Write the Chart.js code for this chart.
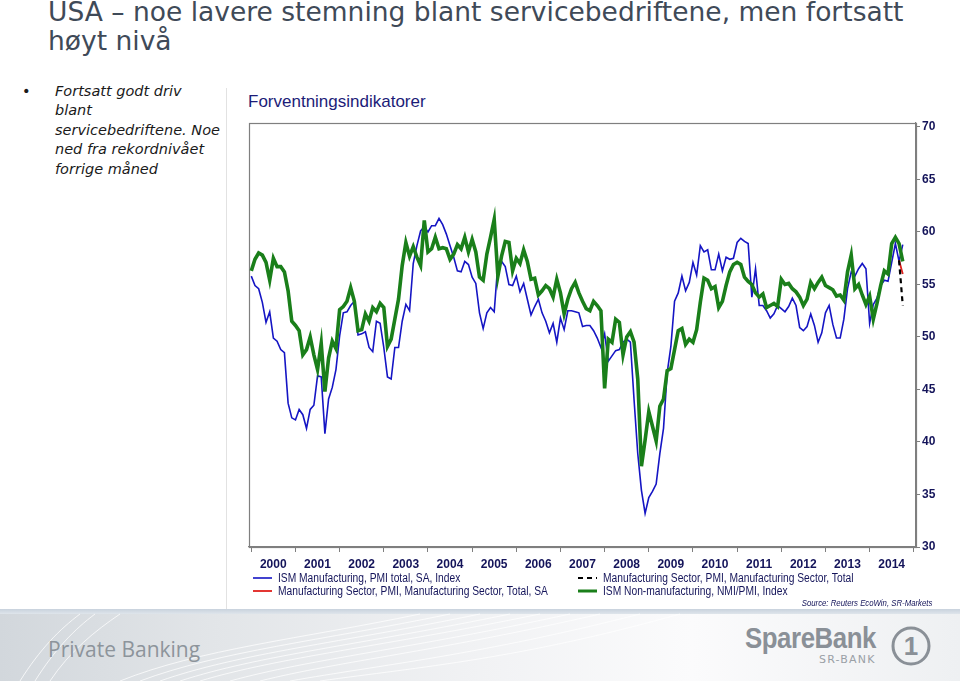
<!DOCTYPE html>
<html>
<head>
<meta charset="utf-8">
<script src="https://cdn.jsdelivr.net/npm/chart.js@4.4.0/dist/chart.umd.min.js"></script>
<style>
html, body { margin: 0; padding: 0; }
body { width: 960px; height: 681px; position: relative; overflow: hidden; background: #fff; }
#title { position: absolute; left: 48px; top: -3px; font-family: "DejaVu Sans", sans-serif; font-size: 26.5px; line-height: 29px; color: #3f4a58; white-space: nowrap; }
#bullet { position: absolute; left: 22px; top: 82px; font-family: "DejaVu Sans", sans-serif; font-size: 14.5px; line-height: 19.4px; color: #1a1a1a; }
#bullettext { position: absolute; left: 55px; top: 82px; font-family: "DejaVu Sans", sans-serif; font-style: italic; font-size: 14.5px; line-height: 19.4px; color: #1a1a1a; white-space: nowrap; }
#sep { position: absolute; left: 226px; top: 88px; width: 1px; height: 521px; background: #e2e2e2; }
#charttitle { position: absolute; left: 248px; top: 92px; font-family: "Liberation Sans", Arial, sans-serif; font-size: 17px; color: #1c1c78; }
#chart { position: absolute; left: 243px; top: 110px; }
#legend { position: absolute; left: 253px; top: 571px; display: grid; grid-template-columns: 325px 340px;
  font-family: "Liberation Sans", Arial, sans-serif; font-size: 12.5px; color: #14145a; }
#legend .item { display: flex; align-items: center; height: 13px; white-space: nowrap; }
#legend svg { margin-right: 6px; flex-shrink: 0; }
#legend span { display: inline-block; transform: scaleX(0.82); transform-origin: left center; }
#source { position: absolute; right: 28px; top: 597px; font-family: "Liberation Sans", Arial, sans-serif; font-style: italic; font-size: 9.5px; color: #14145a; transform: scaleX(0.82); transform-origin: right center; }
#footer { position: absolute; left: 0; top: 609px; width: 960px; height: 72px;
  background: linear-gradient(90deg, #d2d7dc 0%, #e2e5e8 22%, #f1f2f4 50%, #fbfbfc 72%, #eef0f2 100%); }
#footer .band { position: absolute; left: 0; top: 0; width: 960px; height: 5px; background: linear-gradient(180deg, #c8d2dd, #dfe5eb); }
#pb { position: absolute; left: 48px; top: 26px; font-family: "Open Sans", sans-serif; font-size: 21px; color: #8d949b; }
#sb { position: absolute; left: 745px; top: 12px; font-family: "Liberation Sans", Arial, sans-serif; font-weight: bold; font-size: 30px; color: #8a9097; letter-spacing: -0.5px; transform: scaleX(0.86); transform-origin: left center; }
#sr { position: absolute; left: 819px; top: 44px; font-family: "DejaVu Sans", sans-serif; font-size: 11px; color: #9aa0a6; letter-spacing: 1.2px; }
#one { position: absolute; left: 890px; top: 16px; }
</style>
</head>
<body>
<div id="title">USA – noe lavere stemning blant servicebedriftene, men fortsatt<br>høyt nivå</div>
<div id="bullet">•</div>
<div id="bullettext">Fortsatt godt driv<br>blant<br>servicebedriftene. Noe<br>ned fra rekordnivået<br>forrige måned</div>
<div id="sep"></div>
<div id="charttitle">Forventningsindikatorer</div>
<canvas id="chart" width="702" height="500"></canvas>
<div id="legend"></div>
<div id="source">Source: Reuters EcoWin, SR-Markets</div>
<div id="footer">
  <div class="band"></div>
  <svg width="960" height="72" style="position:absolute;left:0;top:0">
    <g fill="none" stroke="#ffffff" stroke-opacity="0.75" stroke-width="1">
      <path d="M20,72 C40,40 60,20 80,5"/>
      <path d="M35,72 C55,40 75,20 95,5"/>
      <path d="M50,72 C70,42 95,22 120,5"/>
      <path d="M120,72 C200,40 300,30 420,5"/>
      <path d="M140,72 C220,42 320,32 450,5"/>
      <path d="M160,72 C240,44 340,34 480,5"/>
      <path d="M180,72 C260,46 360,36 510,5"/>
      <path d="M200,72 C280,48 380,38 540,5"/>
      <path d="M230,72 C310,50 410,40 570,5"/>
      <path d="M260,72 C340,52 440,42 600,5"/>
      <path d="M290,72 C380,56 480,46 640,5"/>
      <path d="M320,72 C420,58 520,50 680,5"/>
    </g>
  </svg>
  <div id="pb">Private Banking</div>
  <div id="sb">SpareBank</div>
  <div id="sr">SR-BANK</div>
  <svg id="one" width="44" height="44">
    <circle cx="21" cy="21" r="18" fill="none" stroke="#8a9097" stroke-width="3"/>
    <text x="21" y="30" text-anchor="middle" font-family="Liberation Sans, Arial" font-weight="bold" font-size="26" fill="#8a9097">1</text>
  </svg>
</div>

<script>
// Forventningsindikatorer USA, månedlig fra jan 2000 til okt 2014

const years = [2000, 2001, 2002, 2003, 2004, 2005, 2006, 2007, 2008, 2009, 2010, 2011, 2012, 2013, 2014];
const yTicks = [30, 35, 40, 45, 50, 55, 60, 65, 70];

// ISM Manufacturing, PMI total
const ismMfg = [
  55.8, 54.9, 54.6, 53.3, 51.4, 52.4, 49.9, 49.6, 48.8, 48.5,
  43.7, 42.3, 42.1, 43.1, 42.6, 41.3, 43.1, 43.5, 46.3, 46.2,
  40.8, 44.1, 45.2, 46.9, 50.1, 52.3, 52.4, 53.0, 53.4, 50.2,
  50.3, 50.5, 49.0, 48.6, 51.5, 51.3, 49.0, 46.2, 46.0, 49.0,
  49.0, 51.5, 53.1, 52.5, 57.0,
  58.7, 60.1, 60.5, 60.0, 60.6, 60.6, 61.3, 60.7, 59.8, 58.7,
  57.6, 56.3, 56.2, 57.2, 56.9, 55.7, 55.1, 52.3, 50.8, 52.3,
  52.8, 52.4, 57.0, 57.2, 56.7, 55.0, 54.9, 55.8, 54.3, 55.1,
  53.6, 52.1, 52.9, 53.6, 52.3, 51.5, 50.4, 51.3, 49.5, 51.8,
  50.7, 52.5, 52.5, 52.4, 52.3,
  51.0, 51.1, 51.1, 50.6, 49.9, 49.0, 50.3, 47.7, 48.2, 48.7,
  48.8, 49.5, 49.8, 49.5, 44.0, 38.9, 35.4, 33.2, 34.7, 35.3,
  36.0, 38.9, 41.3, 46.6, 49.1, 53.4, 54.2, 55.8, 54.4, 55.2,
  57.1, 55.9, 58.7, 58.1, 58.3, 56.4, 56.4, 57.9, 56.3, 57.6,
  57.4, 57.5, 59.0, 59.4,
  59.1, 58.9, 53.8, 56.5, 53.0, 53.0, 52.5, 51.8, 52.2, 53.0,
  52.7, 52.4, 52.9, 53.7, 53.0, 50.9, 50.6, 51.0, 52.2, 51.1,
  49.5, 50.4, 52.3, 53.0, 51.2, 49.9, 49.9, 51.7, 54.6, 56.2,
  55.8, 56.5, 57.0, 56.5, 51.3, 53.1, 53.7, 54.9, 55.4, 55.3,
  57.1, 58.9, 57.2, 58.8
];

// ISM Non-manufacturing, NMI/PMI
const ismNonMfg = [
  56.3, 57.4, 58.0, 57.8, 57.1, 55.4, 57.5, 56.7, 56.7, 56.2,
  54.4, 51.5, 51.1, 50.6, 48.3, 48.8, 50.0, 48.3, 46.9, 49.4,
  44.8, 48.0, 49.6, 48.9, 52.6, 52.9, 53.4, 54.7, 53.4, 50.6,
  50.7, 52.2, 51.5, 52.8, 52.4, 53.2, 52.8, 49.1, 49.8, 51.7,
  53.6, 56.8, 59.0, 57.7, 58.6,
  57.6, 56.8, 61.1, 58.1, 58.4, 59.5, 58.4, 58.5, 58.4, 57.4,
  57.9, 58.8, 58.4, 59.5, 58.1, 59.3, 58.1, 55.7, 55.4, 57.9,
  59.5, 61.2, 55.8, 57.7, 59.1, 59.0, 56.3, 57.5, 57.0, 58.3,
  57.2, 55.5, 55.6, 54.0, 54.4, 54.9, 54.6, 53.8, 55.5, 54.2,
  52.2, 53.6, 54.6, 55.2,
  54.2, 53.4, 52.7, 52.5, 53.4, 53.0, 52.5, 45.1, 49.8, 49.5,
  51.7, 51.4, 48.3, 50.0, 50.5, 49.5, 46.0, 37.7, 40.2, 42.9,
  41.5, 40.1, 43.4, 44.1, 46.8, 47.0, 48.8, 50.6, 50.8, 49.3,
  49.8, 49.5, 50.7, 53.3, 55.6, 55.4, 54.6, 54.8, 52.8, 53.4,
  54.9, 56.2, 56.9, 57.1, 56.9,
  55.7, 55.3, 55.0, 54.2, 53.8, 54.1, 52.8, 53.0, 53.2, 52.9,
  55.5, 55.0, 55.1, 54.6, 54.3, 53.8, 53.0, 53.6, 55.2, 54.6,
  55.2, 55.7, 54.9, 54.7, 54.5, 53.9, 54.0, 53.5, 56.2, 57.8,
  54.6, 55.0, 54.0, 53.1, 53.9, 51.7, 53.2, 54.9, 56.3, 56.0,
  58.9, 59.5, 58.9, 57.2
];

// Manufacturing Sector PMI, bare de to siste månedene (sep, okt 2014)
const mfgSectorSA = [57.3, 56.0];
const mfgSectorTotal = [57.3, 53.0];

// Tidsakse: månedene som desimalår
const months = ismMfg.map((_, i) => 2000 + i / 12);

function toPoints(values, offset) {
    return months.map((t, i) => {
        const v = values[i - offset];
        return { x: t, y: v === undefined ? null : v };
    });
}

const tailOffset = months.length - mfgSectorSA.length;
const tickFont = { family: "'Liberation Sans', Arial, sans-serif", size: 12, weight: 'bold' };
const axisGray = '#7f7f7f';

// Ramme rundt plottet
const frame = {
    id: 'frame',
    beforeDatasetsDraw(chart) {
        const a = chart.chartArea;
        const ctx = chart.ctx;
        ctx.save();
        ctx.strokeStyle = axisGray;
        ctx.lineWidth = 1.2;
        ctx.strokeRect(a.left + 0.5, a.top + 0.5, a.right - a.left, a.bottom - a.top);
        ctx.restore();
    }
};

const chart = new Chart(document.getElementById('chart'), {
    type: 'line',
    data: {
        datasets: [
            { label: 'ISM Manufacturing, PMI total, SA, Index', data: toPoints(ismMfg, 0),
              borderColor: '#1515c4', borderWidth: 1.6, order: 3 },
            { label: 'Manufacturing Sector, PMI, Manufacturing Sector, Total', data: toPoints(mfgSectorTotal, tailOffset),
              borderColor: '#000000', borderWidth: 2.2, borderDash: [5, 4], order: 0 },
            { label: 'Manufacturing Sector, PMI, Manufacturing Sector, Total, SA', data: toPoints(mfgSectorSA, tailOffset),
              borderColor: '#e0201c', borderWidth: 1.8, order: 1 },
            { label: 'ISM Non-manufacturing, NMI/PMI, Index', data: toPoints(ismNonMfg, 0),
              borderColor: '#1a7f1a', borderWidth: 3.6, order: 2 }
        ]
    },
    options: {
        responsive: false,
        animation: false,
        devicePixelRatio: 1,
        layout: { padding: { left: 6, top: 13, right: 0, bottom: 0 } },
        elements: { point: { radius: 0 }, line: { tension: 0, fill: false, borderJoinStyle: 'miter' } },
        plugins: { legend: { display: false }, tooltip: { enabled: false } },
        scales: {
            x: {
                type: 'linear',
                min: 1999.948,
                max: 2015.05,
                afterBuildTicks: s => { s.ticks = years.concat([2015]).map(v => ({ value: v })); },
                afterFit: s => { s.height = 63; s.paddingLeft = 0; s.paddingRight = 0; },
                grid: { drawOnChartArea: false, drawTicks: true, tickLength: 5, color: axisGray },
                border: { display: true, color: axisGray, width: 1.2 },
                ticks: {
                    autoSkip: false, maxRotation: 0, labelOffset: 22, padding: 5,
                    color: '#14145a', font: tickFont,
                    callback: v => years.includes(v) ? String(v) : ''
                }
            },
            y: {
                position: 'right',
                min: 30,
                max: 70.38,
                afterBuildTicks: s => { s.ticks = yTicks.map(v => ({ value: v })); },
                afterFit: s => { s.width = 29; s.paddingTop = 0; s.paddingBottom = 0; },
                grid: { drawOnChartArea: false, drawTicks: true, tickLength: 4, color: axisGray },
                border: { display: true, color: axisGray, width: 1.2 },
                ticks: { padding: 2, color: '#14145a', font: tickFont }
            }
        }
    },
    plugins: [frame]
});

// Tegnforklaring i to kolonner
function buildLegend() {
    const box = document.getElementById('legend');
    box.innerHTML = chart.data.datasets.map(ds => {
        const dash = ds.borderDash ? `stroke-dasharray="${ds.borderDash.join(',')}"` : '';
        return `<div class="item">
            <svg width="19" height="6"><line x1="0" y1="3" x2="19" y2="3" stroke="${ds.borderColor}" stroke-width="${Math.min(ds.borderWidth, 3)}" ${dash}/></svg>
            <span>${ds.label}</span>
        </div>`;
    }).join('');
}

buildLegend();
</script>
</body>
</html>
